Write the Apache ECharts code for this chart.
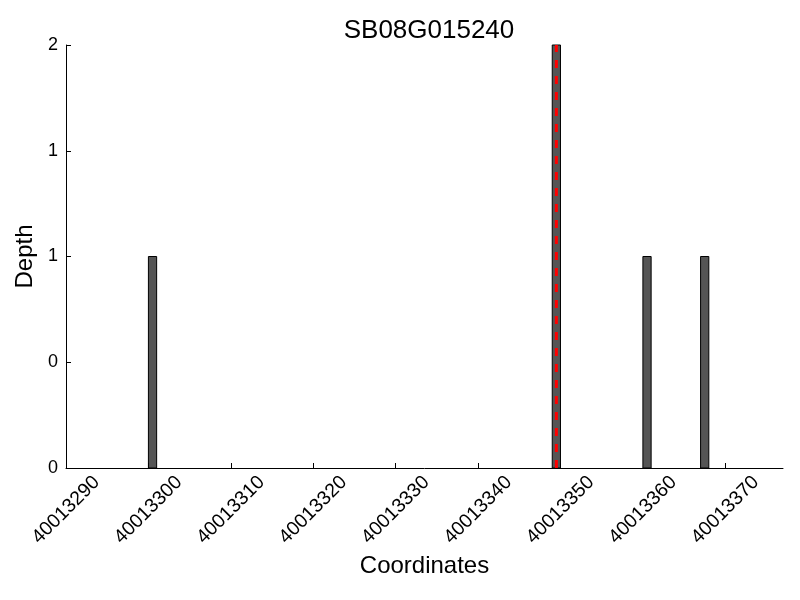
<!DOCTYPE html>
<html>
<head>
<meta charset="utf-8">
<script src="https://cdn.jsdelivr.net/npm/echarts@6/dist/echarts.min.js"></script>
<style>html,body{margin:0;padding:0;background:#fff;}#c{width:800px;height:600px;}</style>
</head>
<body>
<div id="c"></div>
<script>
const titleText = "SB08G015240";
const xName = "Coordinates";
const yName = "Depth";
const positions = [40013300, 40013349, 40013360, 40013367];
const depths = [1, 2, 1, 1];
const markerPos = [40013349.5];
const xMin = 40013290, xMax = 40013377, xStep = 10;
const yMin = 0, yMax = 2, yStep = 0.5;

const FONT = "'Liberation Sans', Arial, Helvetica, sans-serif";
const chart = echarts.init(document.getElementById('c'), null, {renderer: 'canvas'});

const barData = positions.map((p, i) => [p, depths[i]]);

chart.setOption({
  animation: false,
  backgroundColor: '#fff',
  title: {
    text: titleText, left: 424, top: 13, textAlign: 'center',
    textStyle: {fontFamily: FONT, fontSize: 26, fontWeight: 'normal', color: '#000'}
  },
  grid: {left: 66, right: 17, top: 45, bottom: 132},
  xAxis: {
    type: 'value', min: xMin, max: xMax, interval: xStep,
    name: xName, nameLocation: 'middle', nameGap: 86,
    nameTextStyle: {fontFamily: FONT, fontSize: 24, color: '#000'},
    axisLine: {show: true, onZero: false, lineStyle: {color: '#000', width: 1}},
    axisTick: {show: true, inside: true, length: 5, lineStyle: {color: '#000'}},
    splitLine: {show: false},
    axisLabel: {
      rotate: 45, align: 'center', verticalAlign: 'middle', margin: 42,
      fontFamily: FONT, fontSize: 19.5, color: '#000',
      showMaxLabel: false,
      formatter: v => String(v)
    }
  },
  yAxis: {
    type: 'value', min: yMin, max: yMax, interval: yStep,
    name: yName, nameLocation: 'middle', nameGap: 28,
    nameTextStyle: {fontFamily: FONT, fontSize: 24, color: '#000'},
    axisLine: {show: true, lineStyle: {color: '#000', width: 1}},
    axisTick: {show: true, inside: true, length: 5, lineStyle: {color: '#000'}},
    splitLine: {show: false},
    axisLabel: {
      margin: 8, fontFamily: FONT, fontSize: 18, color: '#000',
      formatter: v => String(Math.trunc(v))
    }
  },
  series: [
    {
      type: 'custom',
      data: barData,
      clip: false,
      renderItem: function (params, api) {
        const x = api.value(0), y = api.value(1);
        const p0 = api.coord([x, 0]);
        const p1 = api.coord([x + 1, y]);
        return {
          type: 'rect',
          shape: {x: p0[0], y: p1[1], width: p1[0] - p0[0], height: p0[1] - p1[1]},
          style: {fill: '#555555', stroke: '#000', lineWidth: 1}
        };
      }
    },
    {
      type: 'line',
      data: [[markerPos[0], yMin], [markerPos[0], yMax]],
      symbol: 'none',
      lineStyle: {color: '#ff0000', width: 3, type: [8, 8]},
      z: 5
    }
  ]
});
</script>
</body>
</html>
